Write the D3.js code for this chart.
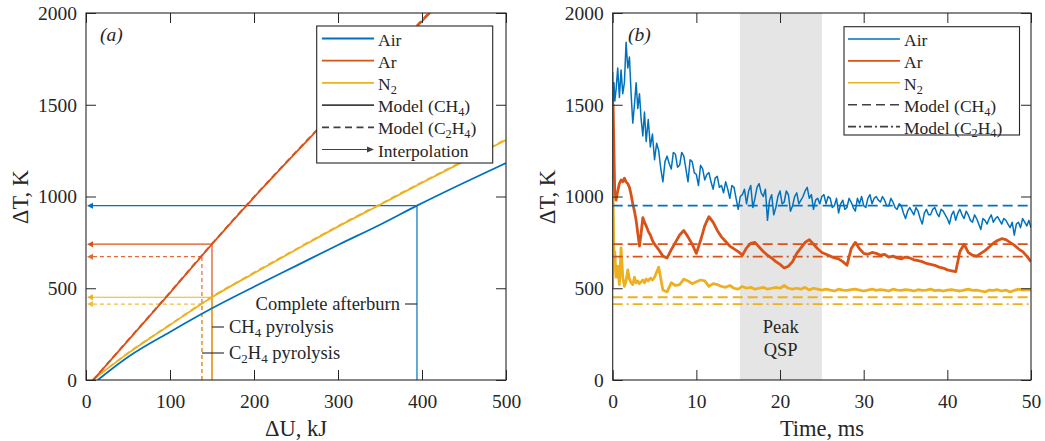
<!DOCTYPE html>
<html><head><meta charset="utf-8">
<script src="https://cdn.jsdelivr.net/npm/d3@7"></script>
<style>
body{margin:0;background:#fff}
svg{display:block}
text{font-family:"Liberation Serif","Times New Roman",serif;fill:#262626}
</style>
</head><body><svg id="chart" width="1045" height="441"></svg>
<script>
// ---------------- DATA ----------------
// Panel (a): temperature rise vs energy release (model curves)
const dU_Air = [14, 50, 100, 150, 200, 250, 300, 350, 394, 450, 500];
const dT_Air = [0, 125, 262, 391, 508, 622, 736, 846, 950, 1075, 1182];
const dU_Ar = [8.5, 50, 100, 150, 200, 250, 300, 350, 400, 420];
const dT_Ar_CH4 = [0, 215, 475, 740, 995, 1240, 1480, 1715, 1955, 2050];
const dT_Ar_C2H4 = [0, 217, 478, 743, 998, 1243, 1484, 1720, 1962, 2057];
const dU_N2 = [8, 50, 100, 150, 200, 250, 300, 350, 400, 450, 500];
const dT_N2_CH4 = [0, 145, 300, 451, 582, 710, 836, 955, 1075, 1192, 1308];
const dT_N2_C2H4 = [0, 147, 302, 453, 585, 713, 839, 958, 1078, 1195, 1311];
// interpolation points
const interpGas = ["Air", "Ar", "Ar", "N2", "N2"];
const interpDU = [394, 150, 138, 150, 138];
const interpDT = [950, 740, 672, 451, 414];
const interpModel = ["CH4", "CH4", "C2H4", "CH4", "C2H4"];
const xTicksA = [0, 100, 200, 300, 400, 500];
const yTicks = [0, 500, 1000, 1500, 2000];

// Panel (b): measured temperature rise vs time
const airTimesMs = [0,0.05,0.15,0.25,0.4,0.6,0.8,1.0,1.2,1.4,1.6,1.8,2.0,2.2,2.4,2.6,2.8,3.0,3.2,3.4,3.6,3.8,4.0,4.25,4.5,4.75,5.0,
 5.25,5.5,5.75,6,6.25,6.5,6.75,7, 7.25,7.5,7.75,8,8.25,8.5,8.75,9, 9.25,9.5,9.75,10,10.25,10.5,10.75,11,
 11.25,11.5,11.75,12,12.25,12.5,12.75,13, 13.25,13.5,13.75,14,14.25,14.5,14.75,15, 15.25,15.5,15.75,16,16.25,16.5,16.75,17,
 17.25,17.5,17.75,18,18.25,18.5,18.75,19, 19.25,19.5,19.75,20,20.25,20.5,20.75,21, 21.25,21.5,21.75,22,22.25,22.5,22.75,23,
 23.25,23.5,23.75,24,24.25,24.5,24.75,25, 25.25,25.5,25.75,26,26.25,26.5,26.75,27, 27.25,27.5,27.75,28,28.25,28.5,28.75,29,
 29.25,29.5,29.75,30,30.25,30.5,30.75,31, 31.25,31.5,31.75,32,32.25,32.5,32.75,33, 33.25,33.5,33.75,34,34.25,34.5,34.75,35,
 35.25,35.5,35.75,36,36.25,36.5,36.75,37, 37.25,37.5,37.75,38,38.25,38.5,38.75,39, 39.25,39.5,39.75,40,40.25,40.5,40.75,41,
 41.25,41.5,41.75,42,42.25,42.5,42.75,43, 43.25,43.5,43.75,44,44.25,44.5,44.75,45, 45.25,45.5,45.75,46,46.25,46.5,46.75,47,
 47.25,47.5,47.75,48,48.25,48.5,48.75,49, 49.25,49.5,49.75,50];
const airT = [1680,1500,1620,1520,1580,1700,1540,1690,1560,1620,1840,1700,1760,1560,1400,1500,1620,1480,1560,1420,1330,1460,1300,1420,1270,1340,1200,
 1290,1250,1150,1080,1190,1220,1180,1150,
 1240,1230,1160,1170,1240,1220,1150,1080,
 1200,1190,1130,1120,1060,1170,1150,1090,
 1120,1130,1080,1040,1100,1110,1050,1060,
 1020,1080,1040,990,1060,1050,990,930,
 1000,1010,1040,960,1030,1060,940,990,
 1050,1070,1020,1000,1040,870,980,1010,
 900,940,1000,1030,960,970,1030,1010,
 920,950,1000,1020,960,980,1000,1030,
 1050,990,1010,930,980,990,960,1000,
 1010,960,1000,990,940,950,990,910,
 960,980,930,940,990,970,940,920,
 990,960,1000,950,940,990,1010,960,
 990,1000,980,970,1000,980,950,950,
 990,970,940,930,960,950,910,880,
 920,940,920,900,940,920,880,850,
 910,930,900,900,930,940,910,890,
 930,920,900,880,850,900,920,870,
 910,930,900,880,920,900,870,860,
 900,880,850,820,880,870,850,880,
 900,860,880,890,870,850,880,870,
 850,830,860,790,850,860,830,880,
 860,840,870,830];
const timesMs = [0,0.05,0.15,0.25,0.4,0.6,0.8,1.0,1.2,1.4,1.6,1.8,2.0,2.2,2.4,2.6,2.8,3.0,3.2,3.4,3.6,3.8,4.0,4.25,4.5,4.75,5.0,
 5.5,6,6.5,7,7.5,8,8.5,9,9.5,10,10.5,11,11.5,12,12.5,13,13.5,14,14.5,15,15.5,16,16.5,17,17.5,18,18.5,19,19.5,20,
 20.5,21,21.5,22,22.5,23,23.5,24,24.5,25,25.5,26,26.5,27,27.5,28,28.5,29,29.5,30,30.5,31,31.5,32,32.5,33,33.5,34,34.5,35,
 35.5,36,36.5,37,37.5,38,38.5,39,39.5,40,40.5,41,41.5,42,42.5,43,43.5,44,44.5,45,45.5,46,46.5,47,47.5,48,48.5,49,49.5,50];
const arT = [1100,1500,1250,1000,980,1030,1070,1090,1080,1100,1080,1070,1050,1010,960,920,870,800,730,800,885,860,840,810,790,760,740,
 710,675,665,710,750,790,815,780,740,690,
 760,840,890,860,815,780,755,730,715,700,
 680,720,745,750,725,700,680,665,645,630,
 610,620,645,690,720,750,765,740,715,695,
 685,675,665,660,645,625,715,750,715,690,
 685,695,690,680,685,670,675,665,660,670,
 665,655,650,645,635,630,625,615,610,600,
 595,590,700,740,695,680,675,690,705,725,
 745,760,770,765,750,735,715,700,675,645];
const n2T = [500,1000,640,700,560,620,520,720,560,510,540,600,550,530,520,560,530,540,525,535,545,530,550,540,555,545,560,
 615,490,480,530,515,520,550,540,525,535,
 545,540,510,525,520,510,505,515,500,495,
 510,500,505,495,500,505,495,500,505,500,
 515,500,495,500,495,505,490,500,495,490,
 495,490,485,495,490,488,492,495,490,485,
 490,495,488,492,490,485,495,490,488,492,
 490,485,492,488,490,495,487,490,485,490,
 492,488,485,490,495,488,490,485,480,490,
 488,492,485,490,480,488,495,490,492,490];
// model levels shown in (b)
const modelGas = ["Air", "Ar", "Ar", "N2", "N2"];
const modelDT = [950, 740, 672, 451, 414];
const modelKind = ["CH4", "CH4", "C2H4", "CH4", "C2H4"];
const qspRange = [15.2, 25];
const xTicksB = [0, 10, 20, 30, 40, 50];

// ---------------- STYLE ----------------
const colors = {Air: "#0072BD", Ar: "#D95319", N2: "#EDB120"};
const axisCol = "#262626";
const W = 1045, H = 441;
const svg = d3.select("#chart");
svg.append("rect").attr("width", W).attr("height", H).attr("fill", "#fff");

const plotTop = 13, plotBottom = 380;
const xa = d3.scaleLinear().domain([0, 500]).range([86, 506]);
const ya = d3.scaleLinear().domain([0, 2000]).range([plotBottom, plotTop]);
const xb = d3.scaleLinear().domain([0, 50]).range([612.7, 1031]);
const yb = d3.scaleLinear().domain([0, 2000]).range([plotBottom, plotTop]);
const fmt = d3.format("d");

function rich(sel, parts, fs) {
  let shifted = false;
  parts.forEach(p => {
    if (typeof p === "string") {
      const t = sel.append("tspan").text(p);
      if (shifted) { t.attr("dy", -0.22 * fs); shifted = false; }
    } else {
      const t = sel.append("tspan").text(p.sub).attr("font-size", fs * 0.7);
      if (!shifted) { t.attr("dy", 0.22 * fs); shifted = true; }
    }
  });
}

function frame(g, x, y, xt) {
  const [x0, x1] = x.range(), [y0, y1] = y.range();
  const tl = 10;
  const styleText = s => s.selectAll("text").attr("font-size", 19.5)
    .attr("font-family", "Liberation Serif, Times New Roman, serif").attr("fill", axisCol);
  g.append("g").attr("transform", `translate(0,${y0})`)
    .call(d3.axisBottom(x).tickValues(xt).tickFormat(fmt).tickSize(-tl).tickSizeOuter(0).tickPadding(14))
    .call(s => { s.select(".domain").remove(); s.selectAll("line").attr("stroke", axisCol); styleText(s); });
  g.append("g").attr("transform", `translate(0,${y1})`)
    .call(d3.axisTop(x).tickValues(xt).tickSize(-tl).tickSizeOuter(0).tickFormat(""))
    .call(s => { s.select(".domain").remove(); s.selectAll("line").attr("stroke", axisCol); });
  g.append("g").attr("transform", `translate(${x0},0)`)
    .call(d3.axisLeft(y).tickValues(yTicks).tickFormat(fmt).tickSize(-tl).tickSizeOuter(0).tickPadding(9))
    .call(s => { s.select(".domain").remove(); s.selectAll("line").attr("stroke", axisCol); styleText(s); });
  g.append("g").attr("transform", `translate(${x1},0)`)
    .call(d3.axisRight(y).tickValues(yTicks).tickSize(-tl).tickSizeOuter(0).tickFormat(""))
    .call(s => { s.select(".domain").remove(); s.selectAll("line").attr("stroke", axisCol); });
  g.append("rect").attr("x", x0).attr("y", y1).attr("width", x1 - x0).attr("height", y0 - y1)
    .attr("fill", "none").attr("stroke", axisCol).attr("stroke-width", 1.1);
}

function clip(id, x, y) {
  const [x0, x1] = x.range(), [y0, y1] = y.range();
  svg.append("clipPath").attr("id", id).append("rect")
    .attr("x", x0).attr("y", y1).attr("width", x1 - x0).attr("height", y0 - y1);
}
clip("clipA", xa, ya); clip("clipB", xb, yb);

// ---------------- PANEL (a) ----------------
const ga = svg.append("g");
const pa = ga.append("g").attr("clip-path", "url(#clipA)");
const lineA = d3.line().curve(d3.curveMonotoneX).x(d => xa(d[0])).y(d => ya(d[1]));
const zip = (a, b) => a.map((v, i) => [v, b[i]]);

interpGas.forEach((gas, i) => {
  const dash = interpModel[i] === "C2H4" ? "4,3" : null;
  const c = colors[gas];
  const op = interpModel[i] === "C2H4" ? 0.85 : 1;
  const xx = xa(interpDU[i]), yy = ya(interpDT[i]);
  pa.append("line").attr("x1", xx).attr("x2", xx).attr("y1", ya(0)).attr("y2", yy)
    .attr("stroke", c).attr("stroke-width", 1.2).attr("stroke-dasharray", dash).attr("opacity", op);
  pa.append("line").attr("x1", xx).attr("x2", xa(0) + 5).attr("y1", yy).attr("y2", yy)
    .attr("stroke", c).attr("stroke-width", 1.2).attr("stroke-dasharray", dash).attr("opacity", op);
  const x0 = xa(0) + 1;
  pa.append("path").attr("d", `M${x0},${yy}L${x0 + 6},${yy - 3}L${x0 + 6},${yy + 3}Z`).attr("fill", c).attr("opacity", op);
});

pa.append("path").attr("d", lineA(zip(dU_Air, dT_Air))).attr("fill", "none").attr("stroke", colors.Air).attr("stroke-width", 1.8);
pa.append("path").attr("d", lineA(zip(dU_N2, dT_N2_CH4))).attr("fill", "none").attr("stroke", colors.N2).attr("stroke-width", 1.8);
pa.append("path").attr("d", lineA(zip(dU_N2, dT_N2_C2H4))).attr("fill", "none").attr("stroke", colors.N2).attr("stroke-width", 1.8).attr("stroke-dasharray", "6,4");
pa.append("path").attr("d", lineA(zip(dU_Ar, dT_Ar_CH4))).attr("fill", "none").attr("stroke", colors.Ar).attr("stroke-width", 1.8);
pa.append("path").attr("d", lineA(zip(dU_Ar, dT_Ar_C2H4))).attr("fill", "none").attr("stroke", colors.Ar).attr("stroke-width", 1.8).attr("stroke-dasharray", "6,4");

frame(ga, xa, ya, xTicksA);

const annFs = 18.5;
function leader(x1, x2, y) {
  ga.append("line").attr("x1", x1).attr("x2", x2).attr("y1", y).attr("y2", y).attr("stroke", axisCol).attr("stroke-width", 1.1);
}
leader(xa(394) - 12, xa(394), 304);
rich(ga.append("text").attr("x", xa(394) - 17).attr("y", 310).attr("text-anchor", "end").attr("font-size", annFs), ["Complete afterburn"], annFs);
leader(xa(150), xa(150) + 12, 327);
rich(ga.append("text").attr("x", xa(150) + 17).attr("y", 333).attr("font-size", annFs), ["CH", {sub: "4"}, " pyrolysis"], annFs);
leader(xa(138), xa(150) + 12, 353);
rich(ga.append("text").attr("x", xa(150) + 17).attr("y", 359).attr("font-size", annFs), ["C", {sub: "2"}, "H", {sub: "4"}, " pyrolysis"], annFs);

ga.append("text").attr("x", 100).attr("y", 41).attr("font-size", 19.5).attr("font-style", "italic").text("(a)");
ga.append("text").attr("x", 296).attr("y", 436).attr("text-anchor", "middle").attr("font-size", 22.5).text("ΔU, kJ");
ga.append("text").attr("transform", "translate(28,197) rotate(-90)").attr("text-anchor", "middle").attr("font-size", 22.5).text("ΔT, K");

const legFs = 17.5;
const legA = ga.append("g");
legA.append("rect").attr("x", 316.7).attr("y", 26).attr("width", 176).attr("height", 137)
  .attr("fill", "#fff").attr("stroke", axisCol).attr("stroke-width", 1.1);
const legAItems = [
  {label: ["Air"], color: colors.Air},
  {label: ["Ar"], color: colors.Ar},
  {label: ["N", {sub: "2"}], color: colors.N2},
  {label: ["Model (CH", {sub: "4"}, ")"], color: "#404040"},
  {label: ["Model (C", {sub: "2"}, "H", {sub: "4"}, ")"], color: "#404040", dash: "7,4.5"},
  {label: ["Interpolation"], color: "#404040", arrow: true}
];
legAItems.forEach((it, i) => {
  const y = 38.5 + i * 22.2;
  legA.append("line").attr("x1", 322).attr("x2", it.arrow ? 368 : 374).attr("y1", y).attr("y2", y)
    .attr("stroke", it.color).attr("stroke-width", it.arrow ? 1.1 : 1.8).attr("stroke-dasharray", it.dash || null);
  if (it.arrow) legA.append("path").attr("d", `M374,${y}L367,${y - 3}L367,${y + 3}Z`).attr("fill", it.color);
  rich(legA.append("text").attr("x", 378).attr("y", y + 7).attr("font-size", legFs), it.label, legFs);
});

// ---------------- PANEL (b) ----------------
const gb = svg.append("g");
gb.append("rect").attr("x", xb(qspRange[0])).attr("y", yb(2000)).attr("width", xb(qspRange[1]) - xb(qspRange[0]))
  .attr("height", yb(0) - yb(2000)).attr("fill", "#e5e5e5");
const pb = gb.append("g").attr("clip-path", "url(#clipB)");
const lineB = d3.line().x(d => xb(d[0])).y(d => yb(d[1]));
pb.append("path").attr("d", lineB(zip(airTimesMs, airT))).attr("fill", "none").attr("stroke", colors.Air).attr("stroke-width", 1.5).attr("stroke-linejoin", "round");
pb.append("path").attr("d", lineB(zip(timesMs, arT))).attr("fill", "none").attr("stroke", colors.Ar).attr("stroke-width", 2.8).attr("stroke-linejoin", "round");
pb.append("path").attr("d", lineB(zip(timesMs, n2T))).attr("fill", "none").attr("stroke", colors.N2).attr("stroke-width", 2.8).attr("stroke-linejoin", "round");
modelGas.forEach((gas, i) => {
  pb.append("line").attr("x1", xb(0)).attr("x2", xb(50)).attr("y1", yb(modelDT[i])).attr("y2", yb(modelDT[i]))
    .attr("stroke", colors[gas]).attr("stroke-width", 1.8)
    .attr("stroke-dasharray", modelKind[i] === "CH4" ? "10,5" : "10,4,2,4");
});
frame(gb, xb, yb, xTicksB);

gb.append("text").attr("x", 780.7).attr("y", 333).attr("text-anchor", "middle").attr("font-size", 18.5).text("Peak");
gb.append("text").attr("x", 780.7).attr("y", 356).attr("text-anchor", "middle").attr("font-size", 18.5).text("QSP");
gb.append("text").attr("x", 628).attr("y", 41).attr("font-size", 19.5).attr("font-style", "italic").text("(b)");
gb.append("text").attr("x", 822).attr("y", 436).attr("text-anchor", "middle").attr("font-size", 22.5).text("Time, ms");
gb.append("text").attr("transform", "translate(555,197) rotate(-90)").attr("text-anchor", "middle").attr("font-size", 22.5).text("ΔT, K");

const legB = gb.append("g");
legB.append("rect").attr("x", 844).attr("y", 26.7).attr("width", 175.5).attr("height", 108.3)
  .attr("fill", "#fff").attr("stroke", axisCol).attr("stroke-width", 1.1);
const legBItems = [
  {label: ["Air"], color: colors.Air},
  {label: ["Ar"], color: colors.Ar},
  {label: ["N", {sub: "2"}], color: colors.N2},
  {label: ["Model (CH", {sub: "4"}, ")"], color: "#404040", dash: "9,5"},
  {label: ["Model (C", {sub: "2"}, "H", {sub: "4"}, ")"], color: "#404040", dash: "8,3,2,3"}
];
legBItems.forEach((it, i) => {
  const y = 39 + i * 21.9;
  legB.append("line").attr("x1", 848).attr("x2", 900).attr("y1", y).attr("y2", y)
    .attr("stroke", it.color).attr("stroke-width", 1.6).attr("stroke-dasharray", it.dash || null);
  rich(legB.append("text").attr("x", 904).attr("y", y + 7).attr("font-size", legFs), it.label, legFs);
});
</script>
</body></html>
